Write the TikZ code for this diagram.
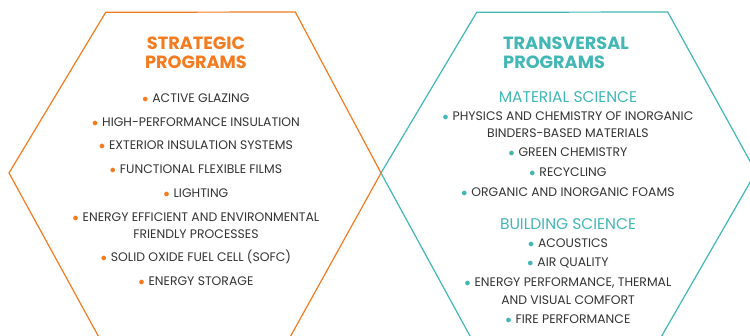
\documentclass[tikz,border=0pt]{standalone}
\usepackage{fontspec}
\setmainfont{Poppins}
\usepackage{tikz}
\definecolor{stratOrange}{RGB}{244,123,32}
\definecolor{transTeal}{RGB}{66,183,181}
\colorlet{ink}{black!80}
\newcommand{\obul}{{\color{stratOrange}$\bullet$}\hspace{4pt}}
\newcommand{\tbul}{{\color{transTeal}$\bullet$}\hspace{4pt}}
\tikzset{
  hexline/.style={line width=1.2pt, line join=miter},
  title/.style={font=\fontsize{17.7}{17.7}\selectfont\bfseries, inner sep=0pt},
  heading/.style={font=\fontsize{15.5}{16}\selectfont, text=transTeal, inner sep=0pt},
  item/.style={font=\fontsize{12.4}{17.6}\selectfont, text=ink, align=center, inner sep=0pt}
}

\begin{document}
\begin{tikzpicture}[x=1pt,y=-1pt]
  \clip (0,0) rectangle (750,336);

  % the two hexagons
  \draw[hexline, draw=stratOrange] (105.7,12.3) -- (295.3,12) -- (381,173) -- (285.7,345) -- (103.2,345) -- (9,173) -- cycle;
  \draw[hexline, draw=transTeal] (476.7,12.3) -- (667.7,12) -- (756,172) -- (656.5,345) -- (474.9,345) -- (381,173) -- cycle;

  % strategic programs
  \node[title, text=stratOrange, align=center] (strat) at (196,53) {STRATEGIC\\[1pt]PROGRAMS};
  \node[item] (glazing) at (196,98.3) {\obul ACTIVE GLAZING};
  \node[item] (hpinsul) at (196,122) {\obul HIGH-PERFORMANCE INSULATION};
  \node[item] (extinsul) at (196,145) {\obul EXTERIOR INSULATION SYSTEMS};
  \node[item] (films) at (196,169) {\obul FUNCTIONAL FLEXIBLE FILMS};
  \node[item] (lighting) at (196,192.7) {\obul LIGHTING};
  \node[item] (processes) at (196,225.5) {\obul ENERGY EFFICIENT AND ENVIRONMENTAL\\FRIENDLY PROCESSES};
  \node[item] (sofc) at (196,257) {\obul SOLID OXIDE FUEL CELL (SOFC)};
  \node[item] (storage) at (196,281) {\obul ENERGY STORAGE};

  % transversal programs
  \node[title, text=transTeal, align=left, anchor=west] (trans) at (503,53) {TRANSVERSAL\\[1pt]PROGRAMS};
  \node[heading] (matsci) at (568,97) {MATERIAL SCIENCE};
  \node[item] (binders) at (568,124.5) {\tbul PHYSICS AND CHEMISTRY OF INORGANIC\\BINDERS-BASED MATERIALS};
  \node[item] (green) at (568,152.3) {\tbul GREEN CHEMISTRY};
  \node[item] (recycling) at (568,172) {\tbul RECYCLING};
  \node[item] (foams) at (568,192) {\tbul ORGANIC AND INORGANIC FOAMS};
  \node[heading] (bldsci) at (568,224.3) {BUILDING SCIENCE};
  \node[item] (acoustics) at (568,242.7) {\tbul ACOUSTICS};
  \node[item] (air) at (568,262.7) {\tbul AIR QUALITY};
  \node[item] (comfort) at (568,291) {\tbul ENERGY PERFORMANCE, THERMAL\\AND VISUAL COMFORT};
  \node[item] (fire) at (568,319.3) {\tbul FIRE PERFORMANCE};
\end{tikzpicture}
\end{document}
